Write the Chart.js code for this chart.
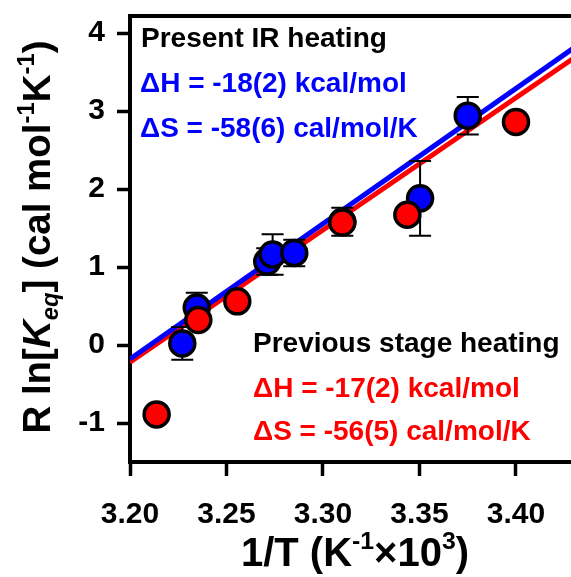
<!DOCTYPE html>
<html>
<head>
<meta charset="utf-8">
<script src="https://cdn.jsdelivr.net/npm/chart.js@4/dist/chart.umd.min.js"></script>
<style>
  html, body { margin: 0; padding: 0; background: #fff; overflow: hidden; }
  #chart { display: block; }
</style>
</head>
<body>
<canvas id="chart" width="571" height="577"></canvas>
<script>
// Tick values
const xTicks = [3.20, 3.25, 3.30, 3.35, 3.40];
const yTicks = [-1, 0, 1, 2, 3, 4];

// Present IR heating: 1/T (K^-1 x 10^3), R ln[Keq], error
const irX   = [3.2271, 3.2346, 3.2711, 3.2739, 3.2851, 3.3100, 3.3503, 3.3750];
const irY   = [0.02,   0.48,   1.07,   1.16,   1.18,   1.58,   1.88,   2.94];
const irErr = [0.21,   0.19,   0.17,   0.26,   0.17,   0.18,   0.48,   0.24];

// Previous stage heating
const stageX = [3.2138, 3.2354, 3.2556, 3.3100, 3.3437, 3.4000];
const stageY = [-0.89,  0.32,   0.56,   1.57,   1.67,   2.86];

// Van 't Hoff fit lines (end points)
const fitX       = [3.20, 3.43];
const irFitY     = [-0.18, 3.81];
const stageFitY  = [-0.22, 3.68];

const FONT = "'Liberation Sans', Arial, Helvetica, sans-serif";
const BLUE = '#0000ff';
const RED = '#ff0000';

const toPts = (xs, ys) => xs.map((x, i) => ({ x: x, y: ys[i] }));

// Draws a run of text pieces (normal / italic / super / subscript) on one baseline
function richText(ctx, parts, x, y, size, color, align) {
  const pieces = parts.map(p => {
    const s = p.sup || p.sub ? size * 0.62 : size;
    const font = (p.italic ? 'italic ' : '') + 'bold ' + s + 'px ' + FONT;
    ctx.font = font;
    return { t: p.t, font: font, w: ctx.measureText(p.t).width,
             dy: p.sup ? -size * 0.42 : (p.sub ? size * 0.22 : 0) };
  });
  const total = pieces.reduce((a, p) => a + p.w, 0);
  let cx = align === 'center' ? x - total / 2 : x;
  ctx.fillStyle = color;
  ctx.textAlign = 'left';
  ctx.textBaseline = 'alphabetic';
  pieces.forEach(p => {
    ctx.font = p.font;
    ctx.fillText(p.t, cx, y + p.dy);
    cx += p.w;
  });
}

// Vertical error bars for the IR data set, drawn under its markers
const errorBars = {
  id: 'errorBars',
  beforeDatasetDraw(chart, args) {
    if (args.index !== 1) return;
    const { ctx, scales: { x, y } } = chart;
    ctx.save();
    ctx.strokeStyle = '#000';
    ctx.lineWidth = 2;
    irX.forEach((v, i) => {
      const px = x.getPixelForValue(v);
      const top = y.getPixelForValue(irY[i] + irErr[i]);
      const bot = y.getPixelForValue(irY[i] - irErr[i]);
      ctx.beginPath();
      ctx.moveTo(px, top); ctx.lineTo(px, bot);
      ctx.moveTo(px - 11, top); ctx.lineTo(px + 11, top);
      ctx.moveTo(px - 11, bot); ctx.lineTo(px + 11, bot);
      ctx.stroke();
    });
    ctx.restore();
  }
};

// Top frame line, axis titles and the fit annotations
const decorations = {
  id: 'decorations',
  afterDraw(chart) {
    const { ctx, chartArea: a } = chart;
    ctx.save();
    ctx.strokeStyle = '#000';
    ctx.lineWidth = 4;
    ctx.beginPath();
    ctx.moveTo(a.left - 2, a.top);
    ctx.lineTo(a.right + 2, a.top);
    ctx.stroke();

    // x-axis title
    richText(ctx, [
      { t: '1/T (K' }, { t: '-1', sup: true }, { t: '\u00d710' }, { t: '3', sup: true }, { t: ')' }
    ], 355, 566, 40, '#000', 'center');

    // y-axis title
    ctx.save();
    ctx.translate(50, 237);
    ctx.rotate(-Math.PI / 2);
    richText(ctx, [
      { t: 'R ln[' }, { t: 'K', italic: true }, { t: 'eq', italic: true, sub: true },
      { t: '] (cal mol' }, { t: '-1', sup: true }, { t: 'K' }, { t: '-1', sup: true }, { t: ')' }
    ], 0, 0, 38.5, '#000', 'center');
    ctx.restore();

    // annotations
    richText(ctx, [{ t: 'Present IR heating' }], 141, 47, 28, '#000');
    richText(ctx, [{ t: '\u0394H = -18(2) kcal/mol' }], 140, 92, 28, BLUE);
    richText(ctx, [{ t: '\u0394S = -58(6) cal/mol/K' }], 140, 137, 28, BLUE);
    richText(ctx, [{ t: 'Previous stage heating' }], 253, 352, 28, '#000');
    richText(ctx, [{ t: '\u0394H = -17(2) kcal/mol' }], 253, 397, 28, RED);
    richText(ctx, [{ t: '\u0394S = -56(5) cal/mol/K' }], 253, 440, 28, RED);
    ctx.restore();
  }
};

const tickFont = { family: FONT, weight: 'bold', size: 30 };

new Chart(document.getElementById('chart'), {
  type: 'scatter',
  data: {
    datasets: [
      {
        label: 'Previous stage heating',
        data: toPts(stageX, stageY),
        backgroundColor: RED, borderColor: '#000', borderWidth: 3.5,
        pointRadius: 12.5, pointHoverRadius: 12.5
      },
      {
        label: 'Present IR heating',
        data: toPts(irX, irY),
        backgroundColor: BLUE, borderColor: '#000', borderWidth: 3.5,
        pointRadius: 12.5, pointHoverRadius: 12.5
      },
      {
        type: 'line', label: 'IR fit',
        data: toPts(fitX, irFitY),
        borderColor: BLUE, borderWidth: 5, pointRadius: 0, fill: false
      },
      {
        type: 'line', label: 'Stage fit',
        data: toPts(fitX, stageFitY),
        borderColor: RED, borderWidth: 5, pointRadius: 0, fill: false
      }
    ]
  },
  options: {
    responsive: false,
    animation: false,
    devicePixelRatio: 1,
    layout: { autoPadding: false, padding: { top: 16, right: 0, left: 0, bottom: 0 } },
    plugins: { legend: { display: false }, tooltip: { enabled: false } },
    scales: {
      x: {
        type: 'linear', min: 3.20, max: 3.4285,
        afterBuildTicks: s => { s.ticks = xTicks.map(v => ({ value: v })); },
        afterFit: s => { s.height = 115; s.paddingLeft = 0; s.paddingRight = 0; },
        ticks: { callback: v => v.toFixed(2), font: tickFont, color: '#000', padding: 21, maxRotation: 0, autoSkip: false },
        grid: { drawOnChartArea: false, drawTicks: true, tickLength: 14, tickWidth: 3.5, tickColor: '#000' },
        border: { display: true, color: '#000', width: 4 }
      },
      y: {
        type: 'linear', min: -1.5, max: 4.218,
        afterBuildTicks: s => { s.ticks = yTicks.map(v => ({ value: v })); },
        afterFit: s => { s.width = 130; s.paddingTop = 0; s.paddingBottom = 0; },
        ticks: { callback: v => String(v), font: tickFont, color: '#000', padding: 12, autoSkip: false },
        grid: { drawOnChartArea: false, drawTicks: true, tickLength: 13, tickWidth: 3.5, tickColor: '#000' },
        border: { display: true, color: '#000', width: 4 }
      }
    }
  },
  plugins: [errorBars, decorations]
});
</script>
</body>
</html>
